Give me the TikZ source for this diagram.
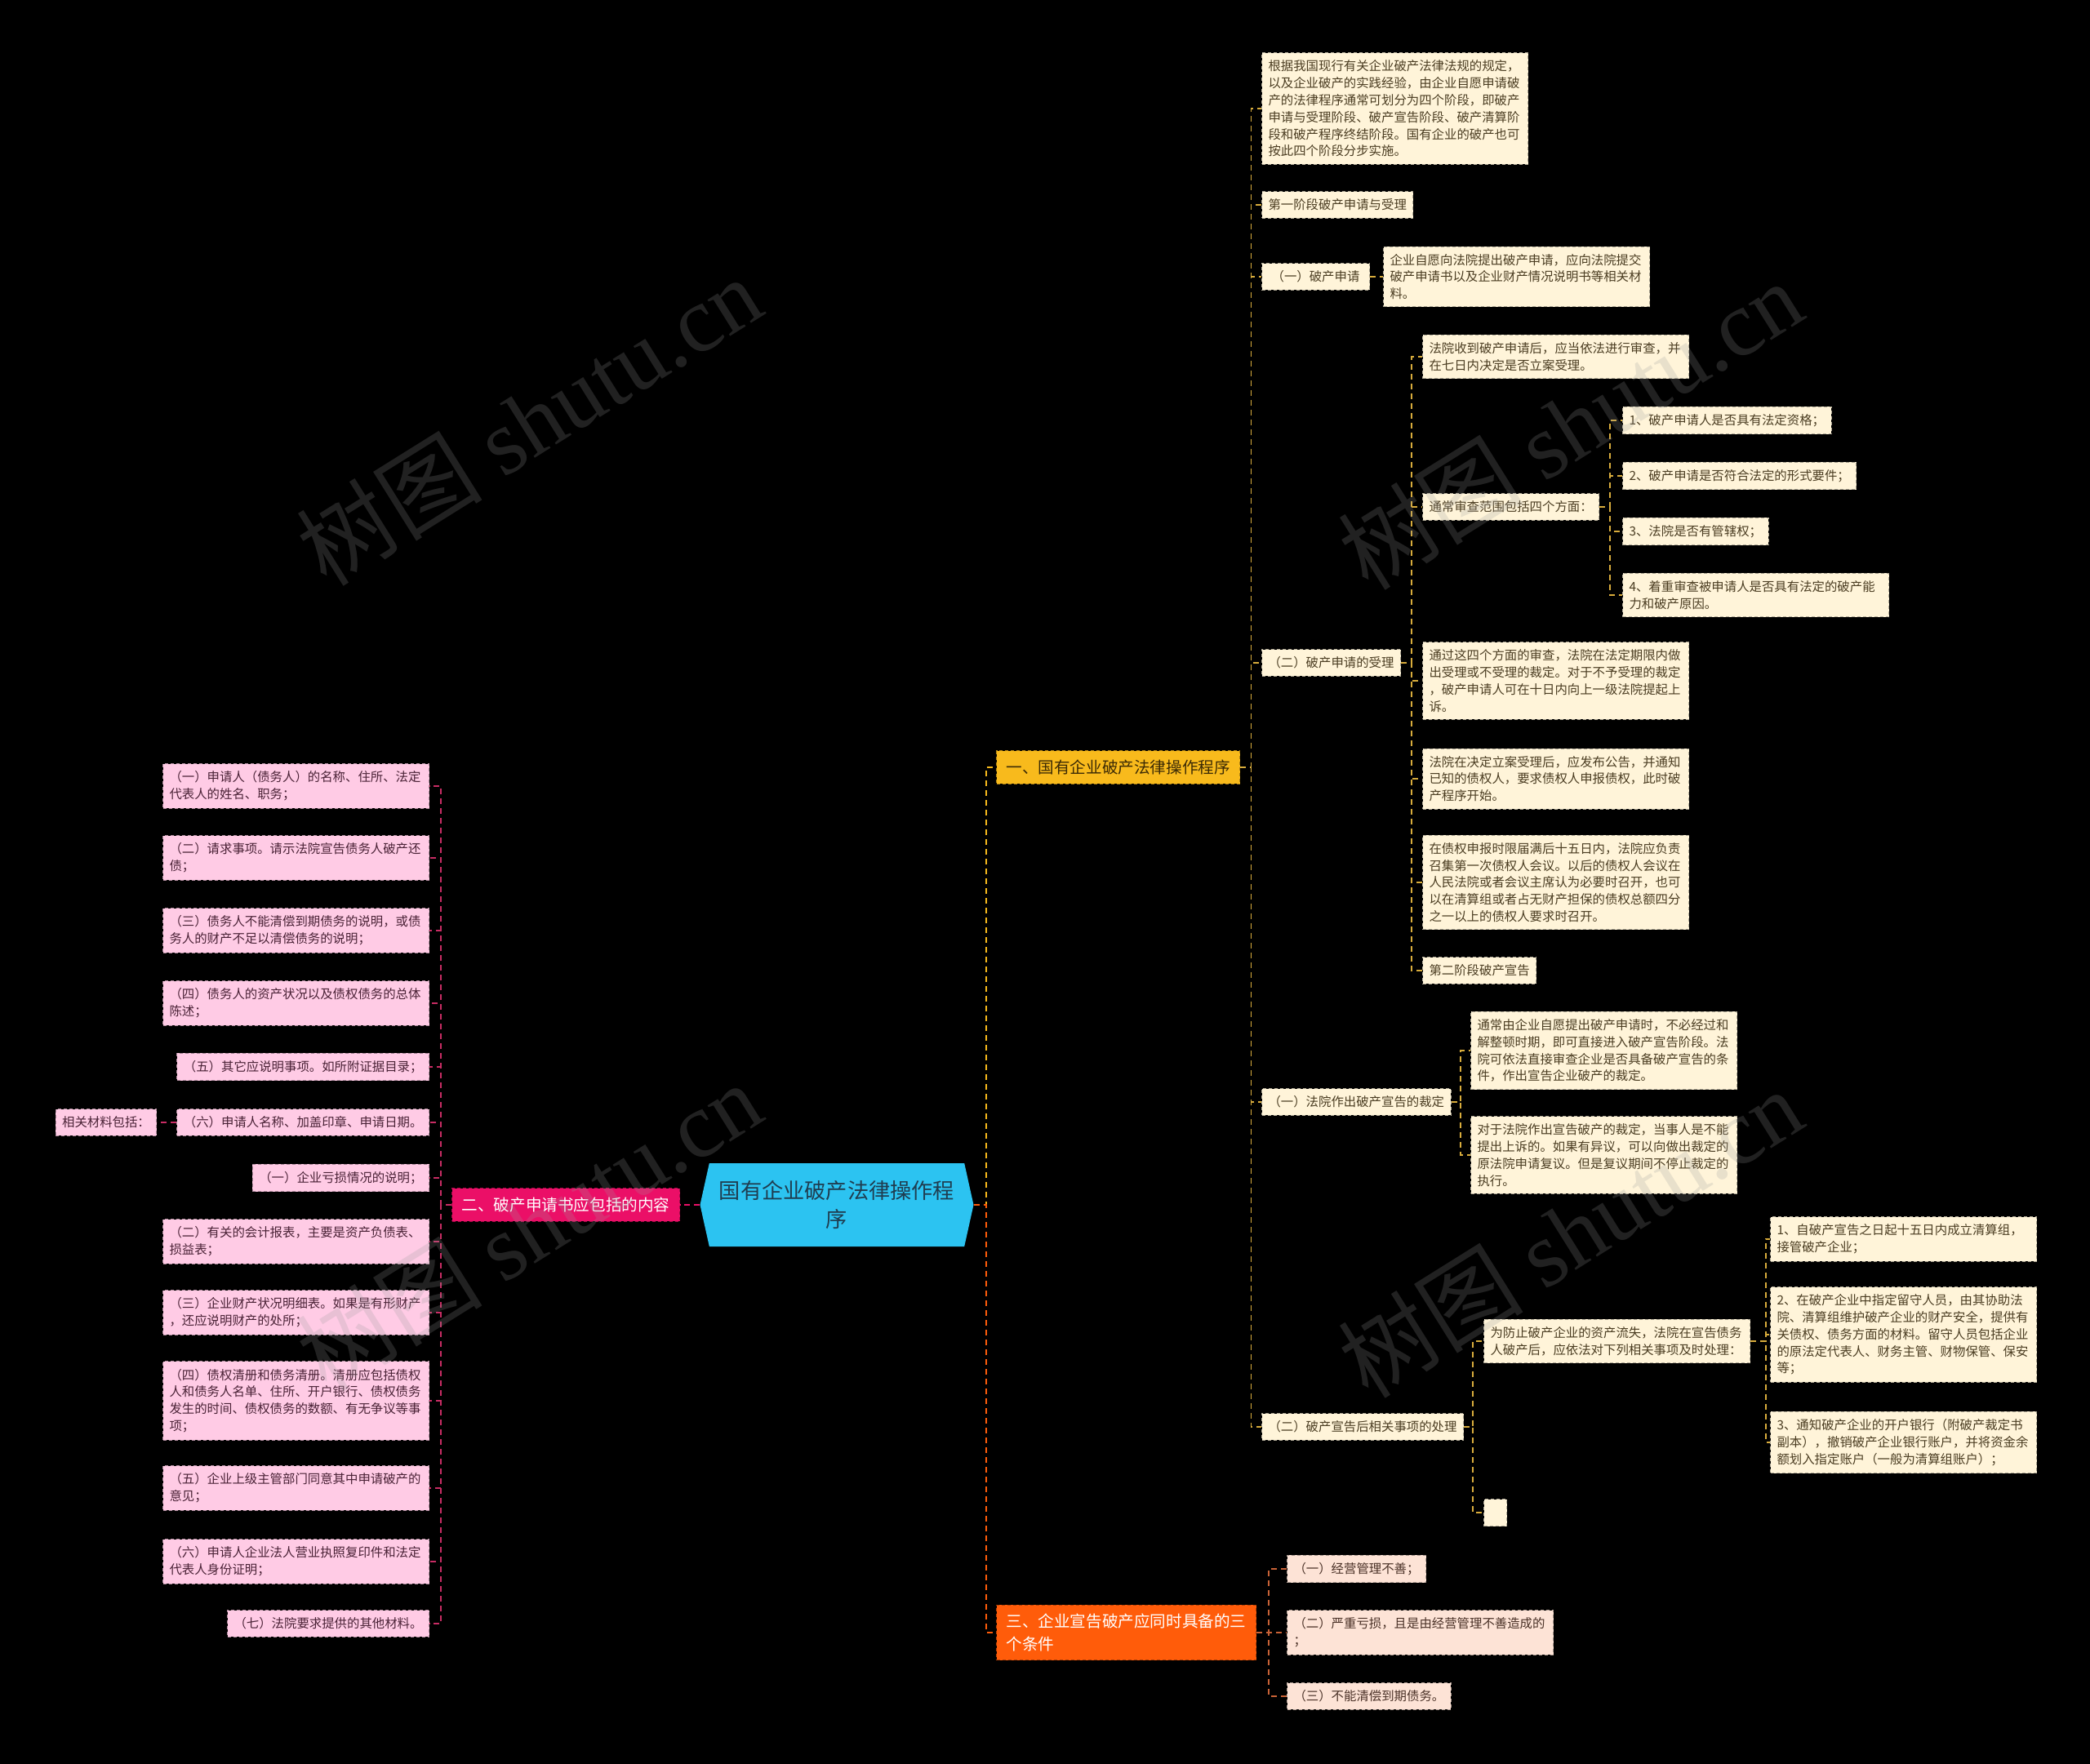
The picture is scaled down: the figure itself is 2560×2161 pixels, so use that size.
\documentclass[tikz,border=0pt]{standalone}
\usepackage{fontspec}
\setmainfont{Noto Sans CJK SC}
\newfontfamily\wmlatin{Liberation Serif}
\usepackage{tikz}
\usetikzlibrary{
  shapes.symbols,
  positioning
}
\definecolor{bg}{HTML}{000000}
\definecolor{rootfill}{HTML}{2CC3F1}
\definecolor{roottext}{HTML}{1F3D50}
\definecolor{gold}{HTML}{F8BA1C}
\definecolor{goldtext}{HTML}{3B2A05}
\definecolor{goldline}{HTML}{D8AC3C}
\definecolor{cream}{HTML}{FFF4D9}
\definecolor{creamtext}{HTML}{4B3D22}
\definecolor{rose}{HTML}{EB0F67}
\definecolor{roseline}{HTML}{C82C64}
\definecolor{pinkleaf}{HTML}{FFCBE5}
\definecolor{pinkleaftext}{HTML}{4A2236}
\definecolor{flame}{HTML}{FF5C0A}
\definecolor{flameline}{HTML}{C96236}
\definecolor{peach}{HTML}{FDE3D6}
\definecolor{peachtext}{HTML}{4A3127}
\definecolor{wmark}{HTML}{9A9A9A}
\tikzset{
  base/.style={
    font=\fontsize{7.7}{10.4}\selectfont,
    align=left,
    inner xsep=4pt,
    inner ysep=4.5pt,
  },
  leafbox/.style={
    base,
    fill=#1,
    draw=#1!70!black,
    text=#1text,
    line width=0.5pt,
    dash pattern=on 2pt off 1.5pt,
  },
  leafbox/.default=cream,
  wide/.style={text width=155pt},
  branchbox/.style={
    font=\fontsize{9.8}{13.6}\selectfont,
    align=left,
    inner xsep=6pt,
    inner ysep=5.5pt,
    fill=#1,
    draw=#1!70!black,
    line width=0.5pt,
    dash pattern=on 2pt off 1.5pt,
  },
  mainnode/.style={
    signal,
    signal to=east and west,
    signal pointer angle=155,
    fill=rootfill,
    text=roottext,
    font=\fontsize{13.1}{17.6}\selectfont,
    align=center,
    minimum width=167.5pt,
    minimum height=51pt,
    inner sep=2pt,
  },
  conn/.style={
    draw=#1,
    line width=0.9pt,
    dash pattern=on 3.5pt off 2.5pt,
  },
  wmarktext/.style={
    font=\fontsize{57}{57}\selectfont,
    text=wmark,
    opacity=0.22,
    rotate=32,
  },
}

\begin{document}
\begin{tikzpicture}[x=0.5pt, y=-0.5pt]

\fill[bg] (0,0) rectangle (2560,2161);

% === ROOT ===

\node[mainnode] (root) at (1025,1476) {国有企业破产法律操作程\\序};

% === BRANCHES ===

\node[branchbox=gold, text=goldtext, anchor=west]
  (b1) at (1220,940) {一、国有企业破产法律操作程序};

\node[branchbox=rose, text=white, anchor=east]
  (b2) at (833,1476) {二、破产申请书应包括的内容};

\node[branchbox=flame, text=white, anchor=west]
  (b3) at (1220,2000) {三、企业宣告破产应同时具备的三\\个条件};

% === BRANCH 1: procedure ===

\node[leafbox, wide, anchor=west] (intro) at (1545,133)
  {根据我国现行有关企业破产法律法规的规定，\\以及企业破产的实践经验，由企业自愿申请破\\产的法律程序通常可划分为四个阶段，即破产\\申请与受理阶段、破产宣告阶段、破产清算阶\\段和破产程序终结阶段。国有企业的破产也可\\按此四个阶段分步实施。};

\node[leafbox, anchor=west] (stage1) at (1545,251) {第一阶段破产申请与受理};

\node[leafbox, anchor=west, minimum width=66pt] (apply) at (1545,339) {（一）破产申请};
\node[leafbox, wide, right=8pt of apply] (applytxt)
  {企业自愿向法院提出破产申请，应向法院提交\\破产申请书以及企业财产情况说明书等相关材\\料。};

\node[leafbox, anchor=west] (accept) at (1545,812) {（二）破产申请的受理};

\node[leafbox, wide, anchor=west] (review) at (1742,437)
  {法院收到破产申请后，应当依法进行审查，并\\在七日内决定是否立案受理。};
\node[leafbox, anchor=west] (scope) at (1742,621) {通常审查范围包括四个方面：};
\node[leafbox, anchor=west] (scope1) at (1987,515) {1、破产申请人是否具有法定资格；};
\node[leafbox, anchor=west] (scope2) at (1987,583) {2、破产申请是否符合法定的形式要件；};
\node[leafbox, anchor=west] (scope3) at (1987,651) {3、法院是否有管辖权；};
\node[leafbox, wide, anchor=west] (scope4) at (1987,729)
  {4、着重审查被申请人是否具有法定的破产能\\力和破产原因。};
\node[leafbox, wide, anchor=west] (ruling) at (1742,834)
  {通过这四个方面的审查，法院在法定期限内做\\出受理或不受理的裁定。对于不予受理的裁定\\，破产申请人可在十日内向上一级法院提起上\\诉。};
\node[leafbox, wide, anchor=west] (notice) at (1742,954)
  {法院在决定立案受理后，应发布公告，并通知\\已知的债权人，要求债权人申报债权，此时破\\产程序开始。};
\node[leafbox, wide, anchor=west] (meeting) at (1742,1081)
  {在债权申报时限届满后十五日内，法院应负责\\召集第一次债权人会议。以后的债权人会议在\\人民法院或者会议主席认为必要时召开，也可\\以在清算组或者占无财产担保的债权总额四分\\之一以上的债权人要求时召开。};
\node[leafbox, anchor=west] (stage2) at (1742,1189) {第二阶段破产宣告};

\node[leafbox, anchor=west] (declare) at (1545,1350) {（一）法院作出破产宣告的裁定};
\node[leafbox, wide, anchor=west] (declare1) at (1801,1287)
  {通常由企业自愿提出破产申请时，不必经过和\\解整顿时期，即可直接进入破产宣告阶段。法\\院可依法直接审查企业是否具备破产宣告的条\\件，作出宣告企业破产的裁定。};
\node[leafbox, wide, anchor=west] (declare2) at (1801,1415)
  {对于法院作出宣告破产的裁定，当事人是不能\\提出上诉的。如果有异议，可以向做出裁定的\\原法院申请复议。但是复议期间不停止裁定的\\执行。};

\node[leafbox, anchor=west] (after) at (1545,1748) {（二）破产宣告后相关事项的处理};
\node[leafbox, wide, anchor=west] (afterlist) at (1817,1643)
  {为防止破产企业的资产流失，法院在宣告债务\\人破产后，应依法对下列相关事项及时处理：};
\node[leafbox, anchor=west, minimum width=14pt, minimum height=16.5pt]
  (empty) at (1817,1853) {};
\node[leafbox, wide, anchor=west] (after1) at (2168,1518)
  {1、自破产宣告之日起十五日内成立清算组，\\接管破产企业；};
\node[leafbox, wide, anchor=west] (after2) at (2168,1635)
  {2、在破产企业中指定留守人员，由其协助法\\院、清算组维护破产企业的财产安全，提供有\\关债权、债务方面的材料。留守人员包括企业\\的原法定代表人、财务主管、财物保管、保安\\等；};
\node[leafbox, wide, anchor=west] (after3) at (2168,1767)
  {3、通知破产企业的开户银行（附破产裁定书\\副本），撤销破产企业银行账户，并将资金余\\额划入指定账户（一般为清算组账户）；};

% === BRANCH 3: conditions ===

\node[leafbox=peach, anchor=west] (cond1) at (1576,1922) {（一）经营管理不善；};
\node[leafbox=peach, wide, anchor=west] (cond2) at (1576,2000)
  {（二）严重亏损，且是由经营管理不善造成的\\；};
\node[leafbox=peach, anchor=west] (cond3) at (1576,2078) {（三）不能清偿到期债务。};

% === BRANCH 2: application contents ===

\node[leafbox=pinkleaf, wide, anchor=east] (doc1) at (526,963)
  {（一）申请人（债务人）的名称、住所、法定\\代表人的姓名、职务；};
\node[leafbox=pinkleaf, wide, anchor=east] (doc2) at (526,1051)
  {（二）请求事项。请示法院宣告债务人破产还\\债；};
\node[leafbox=pinkleaf, wide, anchor=east] (doc3) at (526,1140)
  {（三）债务人不能清偿到期债务的说明，或债\\务人的财产不足以清偿债务的说明；};
\node[leafbox=pinkleaf, wide, anchor=east] (doc4) at (526,1229)
  {（四）债务人的资产状况以及债权债务的总体\\陈述；};
\node[leafbox=pinkleaf, anchor=east] (doc5) at (526,1307) {（五）其它应说明事项。如所附证据目录；};
\node[leafbox=pinkleaf, anchor=east] (doc6) at (526,1375) {（六）申请人名称、加盖印章、申请日期。};
\node[leafbox=pinkleaf, left=12pt of doc6] (material) {相关材料包括：};
\node[leafbox=pinkleaf, anchor=east] (mat1) at (526,1443) {（一）企业亏损情况的说明；};
\node[leafbox=pinkleaf, wide, anchor=east] (mat2) at (526,1521)
  {（二）有关的会计报表，主要是资产负债表、\\损益表；};
\node[leafbox=pinkleaf, wide, anchor=east] (mat3) at (526,1608)
  {（三）企业财产状况明细表。如果是有形财产\\，还应说明财产的处所；};
\node[leafbox=pinkleaf, wide, anchor=east] (mat4) at (526,1716)
  {（四）债权清册和债务清册。清册应包括债权\\人和债务人名单、住所、开户银行、债权债务\\发生的时间、债权债务的数额、有无争议等事\\项；};
\node[leafbox=pinkleaf, wide, anchor=east] (mat5) at (526,1823)
  {（五）企业上级主管部门同意其中申请破产的\\意见；};
\node[leafbox=pinkleaf, wide, anchor=east] (mat6) at (526,1913)
  {（六）申请人企业法人营业执照复印件和法定\\代表人身份证明；};
\node[leafbox=pinkleaf, anchor=east] (mat7) at (526,1989) {（七）法院要求提供的其他材料。};

% === CONNECTORS ===

% root to branches
\draw[conn=gold] (root.east) -- ++(15,0) |- (b1.west);
\draw[conn=flame] (root.east) -- ++(15,0) |- (b3.west);
\draw[conn=rose] (root.west) -- (b2.east);

% branch 1
\draw[conn=goldline] (b1.east) -- ++(13,0) |- (intro.west);
\draw[conn=goldline] (b1.east) -- ++(13,0) |- (stage1.west);
\draw[conn=goldline] (b1.east) -- ++(13,0) |- (apply.west);
\draw[conn=goldline] (b1.east) -- ++(13,0) |- (accept.west);
\draw[conn=goldline] (b1.east) -- ++(13,0) |- (declare.west);
\draw[conn=goldline] (b1.east) -- ++(13,0) |- (after.west);
\draw[conn=goldline] (apply) -- (applytxt);

\draw[conn=goldline] (accept.east) -- ++(13,0) |- (review.west);
\draw[conn=goldline] (accept.east) -- ++(13,0) |- (scope.west);
\draw[conn=goldline] (accept.east) -- ++(13,0) |- (ruling.west);
\draw[conn=goldline] (accept.east) -- ++(13,0) |- (notice.west);
\draw[conn=goldline] (accept.east) -- ++(13,0) |- (meeting.west);
\draw[conn=goldline] (accept.east) -- ++(13,0) |- (stage2.west);

\draw[conn=goldline] (scope.east) -- ++(13,0) |- (scope1.west);
\draw[conn=goldline] (scope.east) -- ++(13,0) |- (scope2.west);
\draw[conn=goldline] (scope.east) -- ++(13,0) |- (scope3.west);
\draw[conn=goldline] (scope.east) -- ++(13,0) |- (scope4.west);

\draw[conn=goldline] (declare.east) -- ++(11,0) |- (declare1.west);
\draw[conn=goldline] (declare.east) -- ++(11,0) |- (declare2.west);

\draw[conn=goldline] (after.east) -- ++(11,0) |- (afterlist.west);
\draw[conn=goldline] (after.east) -- ++(11,0) |- (empty.west);

\draw[conn=goldline] (afterlist.east) -- ++(19,0) |- (after1.west);
\draw[conn=goldline] (afterlist.east) -- ++(19,0) |- (after2.west);
\draw[conn=goldline] (afterlist.east) -- ++(19,0) |- (after3.west);

% branch 3
\draw[conn=flameline] (b3.east) -- ++(15,0) |- (cond1.west);
\draw[conn=flameline] (b3.east) -- ++(15,0) |- (cond2.west);
\draw[conn=flameline] (b3.east) -- ++(15,0) |- (cond3.west);

% branch 2
\draw[conn=roseline] (b2.west) -- ++(-13,0) |- (doc1.east);
\draw[conn=roseline] (b2.west) -- ++(-13,0) |- (doc2.east);
\draw[conn=roseline] (b2.west) -- ++(-13,0) |- (doc3.east);
\draw[conn=roseline] (b2.west) -- ++(-13,0) |- (doc4.east);
\draw[conn=roseline] (b2.west) -- ++(-13,0) |- (doc5.east);
\draw[conn=roseline] (b2.west) -- ++(-13,0) |- (doc6.east);
\draw[conn=roseline] (b2.west) -- ++(-13,0) |- (mat1.east);
\draw[conn=roseline] (b2.west) -- ++(-13,0) |- (mat2.east);
\draw[conn=roseline] (b2.west) -- ++(-13,0) |- (mat3.east);
\draw[conn=roseline] (b2.west) -- ++(-13,0) |- (mat4.east);
\draw[conn=roseline] (b2.west) -- ++(-13,0) |- (mat5.east);
\draw[conn=roseline] (b2.west) -- ++(-13,0) |- (mat6.east);
\draw[conn=roseline] (b2.west) -- ++(-13,0) |- (mat7.east);
\draw[conn=roseline] (doc6) -- (material);

% === WATERMARKS ===

\node[wmarktext] at (648,515) {树图 {\wmlatin shutu.cn}};
\node[wmarktext] at (1923,520) {树图 {\wmlatin shutu.cn}};
\node[wmarktext] at (648,1502) {树图 {\wmlatin shutu.cn}};
\node[wmarktext] at (1923,1510) {树图 {\wmlatin shutu.cn}};

\end{tikzpicture}
\end{document}
